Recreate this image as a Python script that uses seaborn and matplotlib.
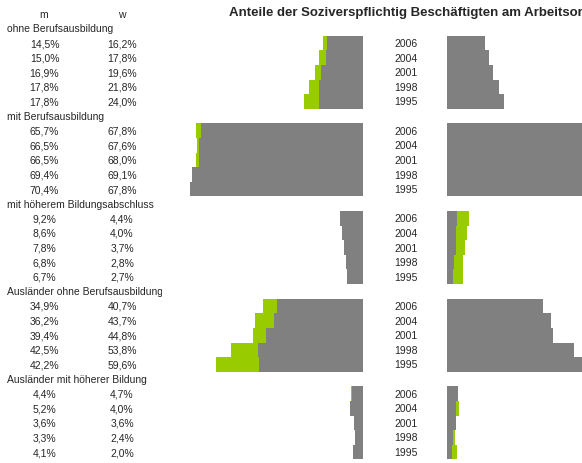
"""
Anteile der sozialversicherungspflichtig Beschäftigten - Pyramide m / w
"""
import matplotlib
matplotlib.use('Agg')
import matplotlib.pyplot as plt
import matplotlib.transforms as mtransforms
from matplotlib.transforms import Bbox
import pandas as pd
import seaborn as sns

# Daten
groups = ['ohne Berufsausbildung', 'mit Berufsausbildung', 'mit höherem Bildungsabschluss',
          'Ausländer ohne Berufsausbildung', 'Ausländer mit höherer Bildung']
years = ['2006', '2004', '2001', '1998', '1995']
m_ohne = [14.5, 15.0, 16.9, 17.8, 17.8]
w_ohne = [16.2, 17.8, 19.6, 21.8, 24.0]
m_mit = [65.7, 66.5, 66.5, 69.4, 70.4]
w_mit = [67.8, 67.6, 68.0, 69.1, 67.8]
m_hoch = [9.2, 8.6, 7.8, 6.8, 6.7]
w_hoch = [4.4, 4.0, 3.7, 2.8, 2.7]
m_ausl_ohne = [34.9, 36.2, 39.4, 42.5, 42.2]
w_ausl_ohne = [40.7, 43.7, 44.8, 53.8, 59.6]
m_ausl_hoch = [4.4, 5.2, 3.6, 3.3, 4.1]
w_ausl_hoch = [4.7, 4.0, 3.6, 2.4, 2.0]

m_vals = [m_ohne, m_mit, m_hoch, m_ausl_ohne, m_ausl_hoch]
w_vals = [w_ohne, w_mit, w_hoch, w_ausl_ohne, w_ausl_hoch]

GRAU = '#808080'
GRUEN = '#99cc00'

# Zeilen: Kopfzeile, dann je Gruppe eine Titelzeile + 5 Jahre
rows = ['kopf']
records = []
for g, ms, ws in zip(groups, m_vals, w_vals):
    rows.append(g)
    for y, m, w in zip(years, ms, ws):
        key = f'{g}|{y}'
        rows.append(key)
        records.append({'row': key, 'gruppe': g, 'jahr': y, 'm': m, 'w': w,
                        'max': max(m, w)})
df = pd.DataFrame(records)

sns.set_style('white')
plt.rcParams['font.family'] = ['Liberation Sans', 'DejaVu Sans']

W, H = 582, 464
fig = plt.figure(figsize=(W / 100, H / 100), dpi=100)

ax_l = fig.add_axes([178.5 / W, 0.0078, 184.5 / W, 0.976])
ax_r = fig.add_axes([447 / W, 0.0078, 135 / W, 0.976])

# links: grau = m, grün bis w (wenn w > m)
sns.barplot(data=df, x='max', y='row', order=rows, orient='h', color=GRUEN,
            width=1.0, errorbar=None, saturation=1, ax=ax_l)
sns.barplot(data=df, x='m', y='row', order=rows, orient='h', color=GRAU,
            width=1.0, errorbar=None, saturation=1, ax=ax_l)
# rechts: grau = w, grün bis m (wenn m > w)
sns.barplot(data=df, x='max', y='row', order=rows, orient='h', color=GRUEN,
            width=1.0, errorbar=None, saturation=1, ax=ax_r)
sns.barplot(data=df, x='w', y='row', order=rows, orient='h', color=GRAU,
            width=1.0, errorbar=None, saturation=1, ax=ax_r)

ax_l.set_xlim(75, 0)
ax_r.set_xlim(0, 57)
for ax in (ax_l, ax_r):
    ax.set_ylim(len(rows) - 0.5, -0.5)
    ax.axis('off')
    for p in ax.patches:
        p.set_linewidth(0)

tr = mtransforms.blended_transform_factory(fig.transFigure, ax_l.transData)
fs = 7.5
clip = Bbox([[0, 0], [162, H]])

fig.text(44 / W, 0, 'm', transform=tr, ha='center', va='center', fontsize=fs)
fig.text(122 / W, 0, 'w', transform=tr, ha='center', va='center', fontsize=fs)
fig.text(229 / W, -0.1, 'Anteile der Soziverspflichtig Beschäftigten am Arbeitsort',
         transform=tr, ha='left', va='center', fontsize=9.5, fontweight='bold')

for i, r in enumerate(rows):
    if r == 'kopf':
        continue
    if '|' not in r:
        t = fig.text(7 / W, i, r, transform=tr, ha='left', va='center', fontsize=fs)
        t.set_clip_box(clip)
        t.set_clip_on(True)
        continue
    rec = df[df['row'] == r].iloc[0]
    fig.text(44.5 / W, i, f"{rec['m']:.1f}%".replace('.', ','), transform=tr,
             ha='center', va='center', fontsize=fs)
    fig.text(122 / W, i, f"{rec['w']:.1f}%".replace('.', ','), transform=tr,
             ha='center', va='center', fontsize=fs)
    fig.text(406 / W, i, rec['jahr'], transform=tr, ha='center', va='center',
             fontsize=fs)

plt.savefig('out.png', dpi=100)
plt.close()
